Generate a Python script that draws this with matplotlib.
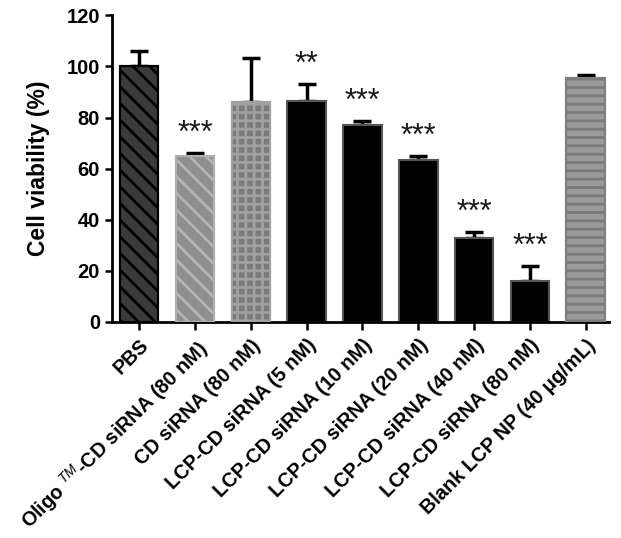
import matplotlib
matplotlib.use("Agg")
import matplotlib.pyplot as plt
import numpy as np

plt.rcParams['font.family'] = ['Liberation Sans', 'DejaVu Sans']
plt.rcParams['mathtext.fontset'] = 'custom'
plt.rcParams['mathtext.rm'] = 'Liberation Sans'
plt.rcParams['mathtext.it'] = 'Liberation Sans:italic'
plt.rcParams['hatch.linewidth'] = 2.0

categories = ['PBS', r'Oligo $^{\it{TM}}$-CD siRNA (80 nM)', 'CD siRNA (80 nM)',
              'LCP-CD siRNA (5 nM)', 'LCP-CD siRNA (10 nM)', 'LCP-CD siRNA (20 nM)',
              'LCP-CD siRNA (40 nM)', 'LCP-CD siRNA (80 nM)', 'Blank LCP NP (40 \u03bcg/mL)']
values = [100, 65, 86, 86.5, 77, 63.3, 33, 16.2, 95.3]
errors = [6, 1, 17.2, 6.5, 1.5, 1.7, 2.3, 5.6, 1.3]
signif = ['', '***', '', '**', '***', '***', '***', '***', '']

face = ['#3a3a3a', '#8f8f8f', '#7a7a7a', 'black', 'black', 'black', 'black', 'black', '#9a9a9a']
hatch_col = ['black', '#b5b5b5', '#a0a0a0', None, None, None, None, None, '#7a7a7a']
edge = ['black', '#b0b0b0', '#a0a0a0', '#555555', '#555555', '#555555', '#555555', '#555555', '#808080']
hatches = ['\\\\', '\\\\', '++', None, None, None, None, None, '--']

fig = plt.figure(figsize=(6.21, 5.38), dpi=100)
ax = fig.add_axes([0.180, 0.4015, 0.801, 0.570])

x = np.arange(len(categories))
for i in range(len(categories)):
    ax.bar(x[i], values[i], width=0.69, color=face[i], edgecolor=edge[i], linewidth=1.5, zorder=2)
    if hatches[i]:
        ax.bar(x[i], values[i], width=0.69, color='none', edgecolor=hatch_col[i],
               hatch=hatches[i], linewidth=0, zorder=3)
        ax.bar(x[i], values[i], width=0.69, color='none', edgecolor=edge[i], linewidth=1.5, zorder=4)
    ax.errorbar(x[i], values[i], yerr=[[0], [errors[i]]], fmt='none', ecolor='black',
                elinewidth=2.5, capsize=6.5, capthick=2.5, zorder=1)
    if signif[i]:
        ax.text(x[i], values[i] + errors[i] + 7.5, signif[i], ha='center', va='center',
                fontsize=22, color='#1a1a1a')

ax.set_xlim(-0.49, 8.42)
ax.set_ylim(0, 120)
ax.set_yticks([0, 20, 40, 60, 80, 100, 120])
ax.set_xticks(x)
ax.set_xticklabels(categories, rotation=45, ha='right', rotation_mode='anchor',
                   fontsize=14.3, fontweight='bold')
for lab in ax.get_yticklabels():
    lab.set_fontweight('bold')
ax.tick_params(axis='y', labelsize=14.5, width=1.8, length=5)
ax.tick_params(axis='x', width=1.8, length=6, pad=4)
ax.spines['top'].set_visible(False)
ax.spines['right'].set_visible(False)
ax.spines['left'].set_linewidth(2)
ax.spines['bottom'].set_linewidth(2)
ax.set_ylabel('Cell viability (%)', fontsize=16.5, fontweight='bold', labelpad=12)

fig.savefig('out.png', dpi=100)
